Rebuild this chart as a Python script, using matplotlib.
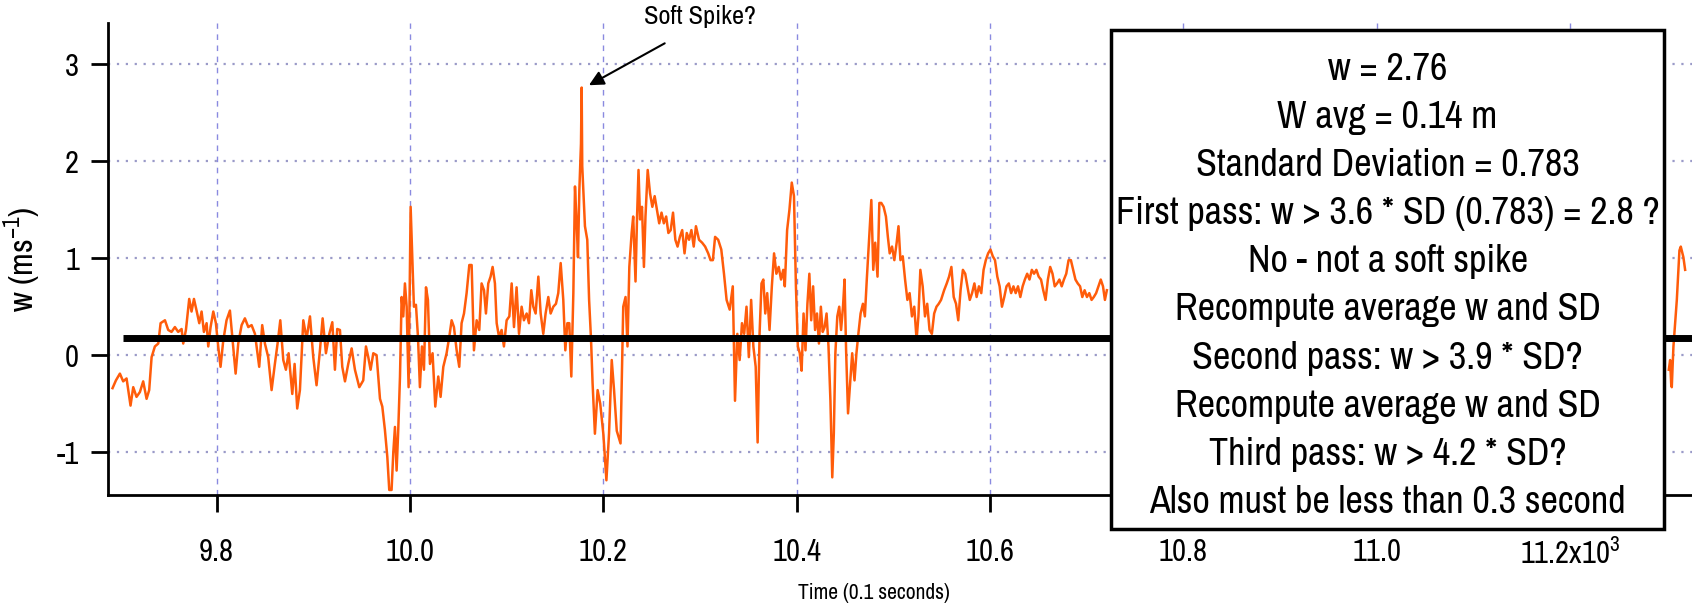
import matplotlib
matplotlib.use('Agg')
import matplotlib.pyplot as plt
from matplotlib import font_manager
from matplotlib.patches import Rectangle

# vertical velocity trace (time in 10^3 x 0.1 s)
t_left = [
    9.6924, 9.6959, 9.7000, 9.7034, 9.7069, 9.7110, 9.7138, 9.7172, 9.7207, 9.7241,
    9.7276, 9.7303, 9.7328, 9.7362, 9.7397, 9.7421, 9.7466, 9.7500, 9.7534, 9.7569,
    9.7603, 9.7638, 9.7655, 9.7683, 9.7717, 9.7741, 9.7766, 9.7793, 9.7821, 9.7845,
    9.7869, 9.7897, 9.7914, 9.7938, 9.7966, 9.7993, 9.8017, 9.8041, 9.8069, 9.8103,
    9.8138, 9.8166, 9.8197, 9.8224, 9.8259, 9.8293, 9.8328, 9.8362, 9.8397, 9.8441,
    9.8472, 9.8500, 9.8534, 9.8569, 9.8603, 9.8631, 9.8659, 9.8690, 9.8717, 9.8745,
    9.8783, 9.8807, 9.8834, 9.8862, 9.8897, 9.8931, 9.8966, 9.9000, 9.9034, 9.9069,
    9.9097, 9.9131, 9.9166, 9.9197, 9.9224, 9.9248, 9.9276, 9.9300, 9.9328, 9.9362,
    9.9397, 9.9431, 9.9476, 9.9517, 9.9545, 9.9569, 9.9593, 9.9621, 9.9655, 9.9690,
    9.9714, 9.9741, 9.9766, 9.9786, 9.9810, 9.9828, 9.9845, 9.9862, 9.9879, 9.9897,
    9.9914, 9.9931, 9.9948, 9.9966, 9.9986, 10.0007, 10.0024, 10.0041, 10.0062, 10.0083,
    10.0103, 10.0124, 10.0145, 10.0166, 10.0186, 10.0207, 10.0234, 10.0262, 10.0293, 10.0317,
    10.0345, 10.0379, 10.0407, 10.0431, 10.0455, 10.0483, 10.0510, 10.0534, 10.0559, 10.0586,
    10.0614, 10.0638, 10.0662, 10.0690, 10.0717, 10.0741, 10.0766, 10.0786, 10.0810, 10.0834,
    10.0855, 10.0879, 10.0897, 10.0921, 10.0948, 10.0972, 10.1000, 10.1028, 10.1052, 10.1076,
    10.1103, 10.1128, 10.1155, 10.1179, 10.1207, 10.1231, 10.1255, 10.1276, 10.1300, 10.1328,
    10.1352, 10.1379, 10.1403, 10.1431, 10.1455, 10.1483, 10.1510, 10.1534, 10.1559, 10.1586,
    10.1607, 10.1628, 10.1648, 10.1669, 10.1690, 10.1707, 10.1724, 10.1738, 10.1752, 10.1769,
    10.1776, 10.1782, 10.1810, 10.1834, 10.1853, 10.1873, 10.1889, 10.1913, 10.1941, 10.1968,
    10.2000, 10.2032, 10.2059, 10.2087, 10.2111, 10.2139, 10.2178, 10.2206, 10.2230, 10.2250,
    10.2269, 10.2293, 10.2309, 10.2333, 10.2349, 10.2364, 10.2380, 10.2400, 10.2420, 10.2436,
    10.2459, 10.2483, 10.2507, 10.2531, 10.2554, 10.2578, 10.2602, 10.2626, 10.2650, 10.2673,
    10.2697, 10.2721, 10.2745, 10.2768, 10.2792, 10.2816, 10.2840, 10.2863, 10.2887, 10.2911,
    10.2935, 10.2958, 10.2990, 10.3022, 10.3053, 10.3085, 10.3109, 10.3133, 10.3156, 10.3188,
    10.3220, 10.3248, 10.3275, 10.3307, 10.3339, 10.3362, 10.3386, 10.3410, 10.3434, 10.3457,
    10.3481, 10.3505, 10.3529, 10.3552, 10.3576, 10.3596, 10.3616, 10.3636, 10.3655, 10.3675,
    10.3695, 10.3719, 10.3743, 10.3766, 10.3790, 10.3814, 10.3838, 10.3861, 10.3877, 10.3901,
    10.3925, 10.3949, 10.3972, 10.3992, 10.4012, 10.4032, 10.4051, 10.4071, 10.4091, 10.4111,
    10.4131, 10.4150, 10.4170, 10.4190, 10.4210, 10.4230, 10.4250, 10.4269, 10.4289, 10.4309,
    10.4329, 10.4349, 10.4368, 10.4384, 10.4400, 10.4420, 10.4440, 10.4459, 10.4479, 10.4495,
    10.4511, 10.4531, 10.4550, 10.4574, 10.4598, 10.4618, 10.4638, 10.4661, 10.4685, 10.4705,
    10.4725, 10.4749, 10.4772, 10.4792, 10.4812, 10.4836, 10.4855, 10.4875, 10.4899, 10.4923,
    10.4943, 10.4962, 10.4986, 10.5010, 10.5034, 10.5053, 10.5073, 10.5097, 10.5121, 10.5145,
    10.5168, 10.5192, 10.5216, 10.5240, 10.5259, 10.5279, 10.5303, 10.5327, 10.5350, 10.5374,
    10.5398, 10.5422, 10.5446, 10.5469, 10.5493, 10.5525, 10.5552, 10.5576, 10.5600, 10.5624,
    10.5648, 10.5671, 10.5695, 10.5719, 10.5743, 10.5766, 10.5790, 10.5814, 10.5838, 10.5861,
    10.5885, 10.5909, 10.5933, 10.5956, 10.5980, 10.6004, 10.6028, 10.6051, 10.6075, 10.6099,
    10.6123, 10.6147, 10.6170, 10.6194, 10.6218, 10.6242, 10.6265, 10.6289, 10.6313, 10.6337,
    10.6360, 10.6384, 10.6408, 10.6432, 10.6455, 10.6479, 10.6503, 10.6527, 10.6550, 10.6574,
    10.6598, 10.6622, 10.6646, 10.6669, 10.6693, 10.6717, 10.6741, 10.6764, 10.6788, 10.6812,
    10.6836, 10.6859, 10.6883, 10.6907, 10.6931, 10.6954, 10.6978, 10.7002, 10.7026, 10.7050,
    10.7073, 10.7097, 10.7121, 10.7145, 10.7168, 10.7188, 10.7208,
]
w_left = [
    -0.34, -0.26, -0.19, -0.27, -0.24, -0.52, -0.33, -0.43, -0.38, -0.27,
    -0.45, -0.36, -0.02, 0.09, 0.12, 0.33, 0.36, 0.26, 0.24, 0.29,
    0.24, 0.27, 0.12, 0.26, 0.58, 0.45, 0.58, 0.46, 0.33, 0.45,
    0.24, 0.33, 0.09, 0.29, 0.45, 0.33, 0.09, -0.12, 0.15, 0.36,
    0.46, 0.15, -0.19, 0.12, 0.31, 0.38, 0.29, 0.31, 0.22, -0.12,
    0.31, 0.12, -0.02, -0.36, -0.09, 0.12, 0.36, -0.05, -0.15, 0.02,
    -0.40, -0.09, -0.55, -0.36, 0.36, 0.17, 0.40, -0.02, -0.31, 0.05,
    0.38, 0.02, 0.22, 0.34, -0.15, 0.27, 0.26, -0.12, -0.27, -0.09,
    0.07, -0.15, -0.33, -0.26, 0.09, -0.02, -0.15, 0.02, 0.00, -0.45,
    -0.53, -0.77, -1.05, -1.39, -1.39, -1.00, -0.74, -1.19, -0.77, -0.22,
    0.60, 0.40, 0.74, 0.50, -0.33, 1.53, 1.01, 0.50, 0.52, 0.19,
    -0.33, 0.09, -0.15, 0.70, 0.57, -0.09, 0.02, -0.53, -0.22, -0.43,
    -0.12, 0.02, 0.19, 0.36, 0.29, 0.05, -0.12, 0.33, 0.43, 0.64,
    0.93, 0.93, 0.05, 0.36, 0.26, 0.74, 0.67, 0.43, 0.74, 0.81,
    0.91, 0.74, 0.33, 0.19, 0.26, 0.09, 0.36, 0.40, 0.74, 0.29,
    0.70, 0.22, 0.50, 0.36, 0.43, 0.33, 0.67, 0.50, 0.43, 0.81,
    0.43, 0.22, 0.43, 0.60, 0.43, 0.50, 0.53, 0.64, 0.95, 0.57,
    0.05, 0.33, 0.33, -0.22, 0.64, 1.74, 1.36, 1.01, 1.70, 2.18,
    2.76, 1.95, 1.33, 1.19, 0.57, 0.16, -0.29, -0.81, -0.36, -0.50,
    -0.81, -1.29, -0.81, -0.05, -0.36, -0.78, -0.91, 0.50, 0.60, 0.09,
    0.91, 1.26, 1.43, 0.76, 1.43, 1.91, 1.40, 1.53, 0.91, 1.43,
    1.91, 1.67, 1.53, 1.64, 1.50, 1.36, 1.47, 1.36, 1.43, 1.26,
    1.29, 1.47, 1.19, 1.12, 1.22, 1.29, 1.05, 1.26, 1.19, 1.29,
    1.12, 1.33, 1.19, 1.16, 1.12, 1.05, 0.98, 0.98, 1.22, 1.19,
    1.09, 0.84, 0.57, 0.47, 0.71, -0.47, 0.22, -0.05, 0.33, 0.22,
    0.50, -0.02, 0.57, 0.09, -0.12, -0.90, 0.22, 0.74, 0.78, 0.43,
    0.64, 0.26, 0.71, 1.05, 0.84, 0.91, 0.78, 0.88, 0.71, 1.29,
    1.50, 1.78, 1.64, 0.71, 0.09, 0.02, -0.16, 0.43, 0.05, 0.53,
    0.84, 0.36, 0.71, 0.26, 0.43, 0.12, 0.50, 0.24, 0.29, 0.43,
    0.09, -0.47, -1.26, -0.81, 0.02, 0.40, 0.50, 0.26, 0.50, 0.78,
    0.05, -0.60, -0.33, 0.02, -0.26, 0.02, 0.22, 0.43, 0.53, 0.40,
    0.78, 1.19, 1.60, 0.88, 1.16, 0.81, 1.57, 1.57, 1.53, 1.43,
    1.22, 1.05, 1.12, 0.98, 1.16, 1.33, 0.98, 1.02, 0.78, 0.57,
    0.64, 0.40, 0.50, 0.16, 0.40, 0.88, 0.71, 0.40, 0.53, 0.26,
    0.22, 0.43, 0.50, 0.53, 0.57, 0.67, 0.74, 0.81, 0.91, 0.60,
    0.53, 0.36, 0.67, 0.88, 0.84, 0.71, 0.57, 0.64, 0.74, 0.60,
    0.71, 0.64, 0.88, 0.98, 1.05, 1.09, 1.02, 0.98, 0.81, 0.71,
    0.50, 0.60, 0.71, 0.74, 0.64, 0.71, 0.64, 0.71, 0.60, 0.71,
    0.78, 0.84, 0.78, 0.88, 0.84, 0.88, 0.81, 0.78, 0.67, 0.57,
    0.78, 0.91, 0.84, 0.71, 0.74, 0.78, 0.71, 0.78, 0.84, 0.98,
    0.98, 0.88, 0.78, 0.74, 0.71, 0.60, 0.67, 0.60, 0.64, 0.57,
    0.60, 0.64, 0.71, 0.78, 0.71, 0.57, 0.67,
]
# small piece visible right of the text box
t_right = [11.3020, 11.3034, 11.3045, 11.3051, 11.3060, 11.3068, 11.3103, 11.3130, 11.3144, 11.3171, 11.3189]
w_right = [-0.15, -0.05, -0.30, -0.33, -0.10, 0.09, 0.57, 1.08, 1.12, 1.01, 0.88]

w_mean = 0.18
mean_start = 9.703
spike_t, spike_w = 10.1776, 2.76

x_ticks = [9.8, 10.0, 10.2, 10.4, 10.6, 10.8, 11.0, 11.2]
x_ticklabels = ['9.8', '10.0', '10.2', '10.4', '10.6', '10.8', '11.0', '11.2x10$^{3}$']
y_ticks = [-1, 0, 1, 2, 3]

box_lines = [
    'w = 2.76',
    'W avg = 0.14 m',
    'Standard Deviation = 0.783',
    'First pass: w > 3.6 * SD (0.783) = 2.8 ?',
    'No - not a soft spike',
    'Recompute average w and SD',
    'Second pass: w > 3.9 * SD?',
    'Recompute average w and SD',
    'Third pass: w > 4.2 * SD?',
    'Also must be less than 0.3 second',
]

# narrow grotesque if there is one, else plain Arial metrics
names = {f.name for f in font_manager.fontManager.ttflist}
font, k = 'Liberation Sans', 0.85
for cand, kk in [('Liberation Sans Narrow', 1.0), ('Arial Narrow', 1.0),
                 ('Archivo Narrow', 1.0), ('PT Sans Narrow', 1.0), ('Roboto Condensed', 0.95)]:
    if cand in names:
        font, k = cand, kk
        break
plt.rcParams['font.family'] = [font, 'DejaVu Sans']
plt.rcParams['mathtext.fontset'] = 'custom'
plt.rcParams['mathtext.rm'] = font
plt.rcParams['axes.unicode_minus'] = False

fig = plt.figure(figsize=(16.92, 6.12), dpi=100)
ax = fig.add_axes([0.064, 0.191, 0.936, 0.771])

orange = '#ff5c0a'
ax.plot(t_left, w_left, color=orange, lw=1.8, zorder=3)
ax.plot(t_right, w_right, color=orange, lw=1.8, zorder=3)
ax.plot([mean_start, 11.4], [w_mean, w_mean], color='black', lw=5, zorder=4,
        solid_capstyle='butt')

ax.set_xlim(9.688, 11.326)
ax.set_ylim(-1.443, 3.423)

ax.set_xticks(x_ticks)
ax.set_xticklabels(x_ticklabels)
ax.set_yticks(y_ticks)

for x in x_ticks:
    ax.axvline(x, color='#8a8ae0', lw=1.0, linestyle=(0, (4, 4)), zorder=1)
for y in y_ticks:
    ax.axhline(y, color='#9a9ac8', lw=1.6, linestyle=(0, (1, 3)), zorder=1)

for side in ['top', 'right']:
    ax.spines[side].set_visible(False)
for side in ['left', 'bottom']:
    ax.spines[side].set_linewidth(2)

ax.tick_params(axis='both', direction='out', length=12, width=2, labelsize=22 * k)
ax.tick_params(axis='x', pad=19)
ax.tick_params(axis='y', pad=9)

ax.set_ylabel('w (ms$^{-1}$)', fontsize=24 * k)
ax.yaxis.set_label_coords(-0.041, 0.5)
ax.set_xlabel('Time (0.1 seconds)', fontsize=15.5 * k)
ax.xaxis.set_label_coords(0.4836, -0.187)

# arrow to the spike
ax.annotate('', xy=(spike_t + 0.005, spike_w + 0.01), xytext=(10.266, 3.23),
            arrowprops=dict(arrowstyle='-|>', color='black', lw=1.5, mutation_scale=22),
            annotation_clip=False, zorder=6)
ax.text(10.30, 3.49, 'Soft Spike?', ha='center', va='center', fontsize=19 * k,
        clip_on=False)

# text box on the right
fig.patches.append(Rectangle((0.6566, 0.136), 0.3269, 0.815, transform=fig.transFigure,
                             facecolor='white', edgecolor='black', lw=2.5, zorder=10))
fig.text(0.8201, 0.533, '\n'.join(box_lines), ha='center', va='center',
         fontsize=27.5 * k, linespacing=1.47, zorder=11)

fig.savefig('out.png', dpi=100)
